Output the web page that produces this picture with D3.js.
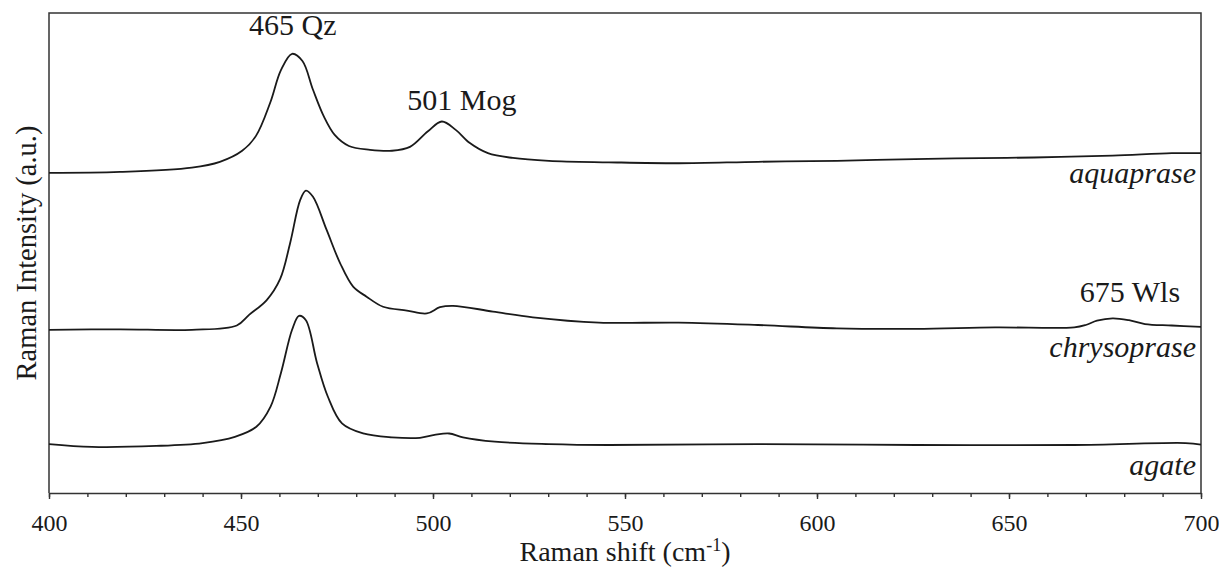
<!DOCTYPE html>
<html>
<head>
<meta charset="utf-8">
<script src="https://cdn.jsdelivr.net/npm/d3@7"></script>
<style>
  body { margin: 0; background: #fff; }
  text { font-family: "Liberation Serif", "Times New Roman", serif; fill: #1a1a1a; }
</style>
</head>
<body>
<div class="canva"></div>
<script>
// Spectra (x = Raman shift, y = intensity a.u. with offsets)
const sampleNames = ['aquaprase', 'chrysoprase', 'agate'];

const aquapraseShift = [400, 418.5, 437.2, 444.5, 450.3, 453.9, 457.6, 460.4, 463.3, 466, 468.75, 471.6, 474.4, 478.1, 483.6, 489.3, 494, 498.6, 502.3, 506, 509.6, 514.3, 520.8, 530.2, 545.8, 564, 584.6, 605.2, 615.4, 636, 656.5, 677, 692.4, 700];
const aquapraseIntensity = [66.7, 66.9, 67.8, 69.0, 71.3, 74.4, 81.3, 88.1, 91.5, 90.0, 84.0, 78.4, 74.6, 72.3, 71.5, 71.3, 72.1, 75.3, 77.4, 75.6, 72.9, 70.8, 69.8, 69.2, 68.9, 68.7, 69.0, 69.2, 69.4, 69.7, 69.9, 70.3, 70.8, 70.8];

const chrysopraseShift = [400, 418.5, 437.2, 448.9, 452.1, 456.7, 460.2, 462.8, 465.4, 466.9, 468.75, 472.3, 475.8, 479.2, 482.7, 487, 493.2, 498.4, 501.8, 505.2, 515.6, 526, 543.2, 564, 584.6, 605.2, 625.8, 646.4, 667, 670, 672.9, 677, 681.25, 685.4, 692.4, 700];
const chrysopraseIntensity = [34.0, 34.1, 34.0, 34.9, 37.1, 40.2, 44.6, 52.1, 61.0, 63.0, 61.7, 54.8, 47.9, 43.0, 40.9, 38.8, 38.0, 37.4, 38.7, 39.0, 37.8, 36.6, 35.5, 35.5, 35.0, 34.3, 34.2, 34.5, 34.5, 35.0, 35.9, 36.4, 36.0, 35.2, 34.9, 34.6];

const agateShift = [400, 411.2, 427.9, 440, 448.4, 454, 457.7, 460.4, 463.3, 465.1, 466.9, 469.8, 472.6, 476.3, 481.8, 489.3, 496.6, 500.4, 504.2, 507.8, 516.1, 530.2, 545.8, 584.6, 625.8, 667, 696, 700];
const agateIntensity = [10.2, 9.6, 9.8, 10.4, 11.7, 13.8, 18.0, 25.0, 34.0, 36.9, 36.0, 27.1, 20.1, 14.5, 12.4, 11.6, 11.5, 12.1, 12.4, 11.6, 10.7, 10.2, 10.0, 10.2, 10.0, 10.0, 10.4, 10.1];

// Peak annotations
const peakLabels = ['465 Qz', '501 Mog', '675 Wls'];
const peakLabelShift = [463.5, 507.5, 681.5];
const peakLabelIntensity = [95.4, 79.8, 39.8];

// Axis ticks
const majorTicks = [400, 450, 500, 550, 600, 650, 700];
const minorTicks = d3.range(400, 701, 10);

const svg = d3.select('.canva').append('svg')
              .attr('width', 1219)
              .attr('height', 568)

//Margin
const margin = { top: 13, right: 18, bottom: 75, left: 49 };
const graphWidth = 1219 - margin.left - margin.right;
const graphHeight = 568 - margin.top - margin.bottom;

const mainCanvas = svg.append('g')
                .attr('transform', `translate(${margin.left},${margin.top})`);

const x = d3.scaleLinear().domain([400, 700]).range([0, graphWidth]);
const y = d3.scaleLinear().domain([0, 100]).range([graphHeight, 0]);

const series = [
  { name: sampleNames[0], shift: aquapraseShift, value: aquapraseIntensity },
  { name: sampleNames[1], shift: chrysopraseShift, value: chrysopraseIntensity },
  { name: sampleNames[2], shift: agateShift, value: agateIntensity }
];

// minor ticks first, then major with labels
mainCanvas.append('g')
  .attr('transform', `translate(0,${graphHeight})`)
  .call(d3.axisBottom(x).tickValues(minorTicks).tickSize(4).tickFormat(''))
  .call(g => g.select('.domain').remove())
  .selectAll('line').attr('stroke', '#333').attr('stroke-width', 1.4);

const xAxis = mainCanvas.append('g')
  .attr('transform', `translate(0,${graphHeight})`)
  .call(d3.axisBottom(x).tickValues(majorTicks).tickSize(6).tickSizeOuter(0).tickFormat(d3.format('d')));

xAxis.select('.domain').attr('stroke', '#333').attr('stroke-width', 1.5);
xAxis.selectAll('line').attr('stroke', '#333').attr('stroke-width', 1.4);
xAxis.selectAll('text')
  .attr('dy', null)
  .attr('y', 38)
  .attr('font-size', 24)
  .attr('font-family', '"Liberation Serif", "Times New Roman", serif')
  .attr('fill', '#1a1a1a');

// frame: left, top, right
mainCanvas.append('path')
  .attr('d', `M0,${graphHeight}V0H${graphWidth}V${graphHeight}`)
  .attr('fill', 'none')
  .attr('stroke', '#333')
  .attr('stroke-width', 1.5);

const line = d3.line()
  .x(d => x(d[0]))
  .y(d => y(d[1]))
  .curve(d3.curveCatmullRom.alpha(0.5));

const spectra = mainCanvas.selectAll('.spectrum')
  .data(series)
  .enter()
  .append('g')
  .attr('class', 'spectrum');

spectra.append('path')
  .attr('d', d => line(d.shift.map((s, i) => [s, d.value[i]])))
  .attr('fill', 'none')
  .attr('stroke', '#1a1a1a')
  .attr('stroke-width', 1.8);

spectra.append('text')
  .attr('x', graphWidth - 5)
  .attr('y', d => y(d.value[d.value.length - 1]) + 30)
  .attr('text-anchor', 'end')
  .attr('font-size', 30)
  .attr('font-style', 'italic')
  .text(d => d.name);

mainCanvas.selectAll('.peak')
  .data(peakLabels)
  .enter()
  .append('text')
  .attr('class', 'peak')
  .attr('x', (d, i) => x(peakLabelShift[i]))
  .attr('y', (d, i) => y(peakLabelIntensity[i]))
  .attr('text-anchor', 'middle')
  .attr('font-size', 30)
  .text(d => d);

// axis titles
const xTitle = svg.append('text')
  .attr('x', margin.left + graphWidth / 2)
  .attr('y', 561)
  .attr('text-anchor', 'middle')
  .attr('font-size', 28);
xTitle.append('tspan').text('Raman shift (cm');
xTitle.append('tspan').attr('font-size', 18).attr('dy', -10).text('-1');
xTitle.append('tspan').attr('dy', 10).text(')');

svg.append('text')
  .attr('transform', `translate(36,${margin.top + graphHeight / 2}) rotate(-90)`)
  .attr('text-anchor', 'middle')
  .attr('font-size', 28.5)
  .text('Raman Intensity (a.u.)');
</script>
</body>
</html>
